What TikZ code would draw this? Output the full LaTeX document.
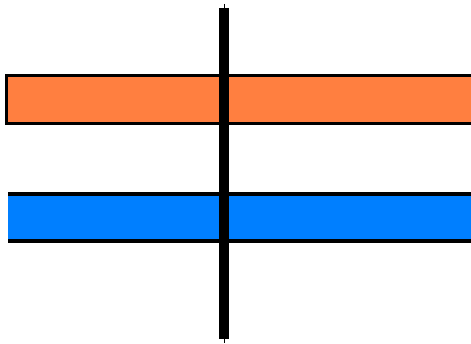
\documentclass[tikz,border=0pt]{standalone}
\usepackage{tikz}
\definecolor{barorange}{HTML}{FF7F40}
\definecolor{barblue}{HTML}{007FFF}
\tikzset{
  obar/.style={draw=black, fill=barorange, line width=3pt},
  bbar/.style={fill=barblue},
  bedge/.style={draw=black, line width=4pt},
  post/.style={draw=black, line width=10pt},
  postwire/.style={draw=black, line width=1pt},
}
\begin{document}
\begin{tikzpicture}[x=1pt,y=1pt]
  \useasboundingbox (0,0) rectangle (471,344);
  % upper bar
  \path[obar] (6.5,268.5) rectangle (480,220.5);
  % lower bar, open on the left
  \path[bbar] (8,150) rectangle (480,103);
  \path[bedge] (8,150) -- (480,150);
  \path[bedge] (8,103) -- (480,103);
  % the post across both bars
  \path[postwire] (224.5,340) -- (224.5,1);
  \path[post] (224,336) -- (224,5);
\end{tikzpicture}
\end{document}
